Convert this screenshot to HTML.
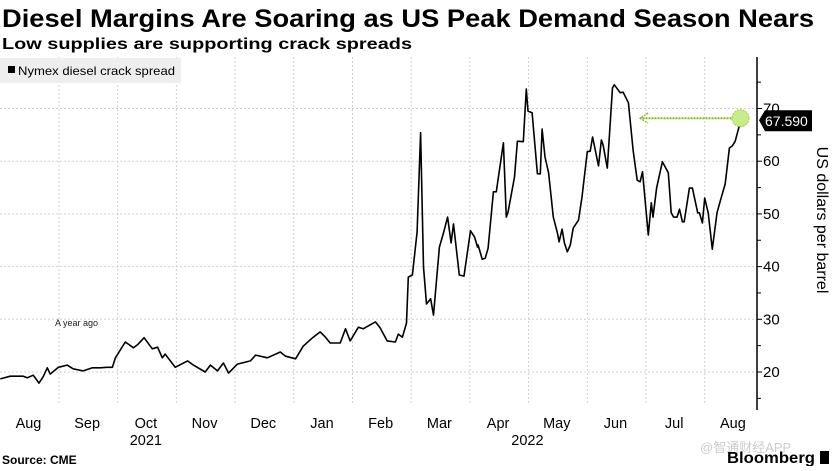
<!DOCTYPE html>
<html><head><meta charset="utf-8"><style>
body{margin:0;background:#fff;width:833px;height:466px;overflow:hidden;font-family:"Liberation Sans",sans-serif}
</style></head><body>
<svg width="833" height="466" viewBox="0 0 833 466" xmlns="http://www.w3.org/2000/svg" font-family="Liberation Sans, sans-serif">
<text x="2" y="27" font-size="25" font-weight="bold" fill="#000" textLength="812" lengthAdjust="spacingAndGlyphs">Diesel Margins Are Soaring as US Peak Demand Season Nears</text>
<text x="2" y="49" font-size="16" font-weight="bold" fill="#000" textLength="410" lengthAdjust="spacingAndGlyphs">Low supplies are supporting crack spreads</text>
<g id="grid"></g>
<g id="axes"></g>
<rect x="0" y="58" width="181" height="25" fill="#eeeeee"/>
<rect x="8" y="66" width="7" height="7" fill="#000"/>
<text x="18" y="75" font-size="12" fill="#000" textLength="157" lengthAdjust="spacingAndGlyphs">Nymex diesel crack spread</text>
<text x="55" y="326" font-size="9" fill="#222">A year ago</text>
<g id="series"></g>
<g id="annot"></g>
<text transform="translate(817,220) rotate(90)" text-anchor="middle" font-size="16" fill="#000">US dollars per barrel</text>
<text x="2" y="464" font-size="12" font-weight="bold" fill="#000">Source: CME</text>
<text x="700" y="452" font-size="13" fill="#ccc">@智通财经APP</text>
<text x="727" y="463" font-size="16" font-weight="bold" fill="#000" textLength="88" lengthAdjust="spacingAndGlyphs">Bloomberg</text>
<rect x="820" y="451" width="9" height="13" fill="#000"/>
</svg>
<script>
// months since 2021-08-01
const times=[0,.17,.39,.46,.56,.66,.73,.80,.85,.99,1.14,1.24,1.41,1.57,1.70,1.82,1.91,1.96,2.13,2.27,2.35,2.45,2.59,2.68,2.76,2.81,2.98,3.19,3.29,3.49,3.58,3.70,3.80,3.89,4.04,4.26,4.35,4.55,4.77,4.86,5.03,5.16,5.32,5.45,5.54,5.62,5.79,5.88,5.96,6.10,6.18,6.39,6.47,6.59,6.73,6.78,6.85,6.92,6.95,7.02,7.10,7.16,7.21,7.26,7.33,7.38,7.48,7.55,7.62,7.68,7.72,7.82,7.90,8.01,8.08,8.13,8.14,8.21,8.26,8.31,8.40,8.45,8.57,8.62,8.65,8.76,8.81,8.91,8.96,8.99,9.06,9.15,9.20,9.23,9.28,9.34,9.42,9.49,9.52,9.57,9.61,9.66,9.71,9.76,9.85,9.91,10.00,10.05,10.09,10.19,10.24,10.27,10.34,10.43,10.46,10.56,10.61,10.70,10.78,10.85,10.90,10.94,11.04,11.09,11.12,11.18,11.28,11.38,11.43,11.47,11.53,11.57,11.62,11.65,11.74,11.79,11.88,11.91,11.96,12.00,12.06,12.13,12.21,12.27,12.35,12.42,12.47,12.52,12.61];
const values=[18.7,19.2,19.2,18.9,19.4,17.9,19.1,20.8,19.6,20.9,21.3,20.6,20.2,20.8,20.8,20.9,20.9,22.7,25.7,24.6,25.3,26.5,24.4,24.7,22.7,23.4,20.9,22.1,21.3,20.0,21.3,20.2,21.7,19.8,21.5,22.1,23.2,22.7,23.8,23.0,22.5,24.9,26.5,27.6,26.6,25.5,25.5,28.2,25.9,28.5,28.2,29.5,28.4,25.9,25.7,27.2,26.6,29.3,38.0,38.4,46.6,65.4,39.9,32.9,33.9,30.8,43.7,46.4,49.4,44.5,48.1,38.4,38.2,46.8,45.6,43.7,44.1,41.4,41.6,43.5,54.2,54.2,63.5,49.4,50.4,57.0,63.8,63.7,73.7,69.5,69.2,57.6,57.6,66.1,60.8,57.8,49.4,46.4,44.7,47.1,44.5,42.8,44.1,47.3,48.8,53.2,61.8,61.9,64.6,59.1,64.0,63.1,58.7,73.9,74.5,73.0,73.1,71.1,62.1,56.4,56.1,58.0,46.0,52.1,49.4,54.9,59.9,57.8,50.2,49.4,49.4,50.9,48.5,48.5,54.9,54.9,50.2,50.2,48.3,53.0,50.2,43.3,50.2,52.6,55.7,62.5,62.9,63.8,67.59];
const monthLabels=["Aug","Sep","Oct","Nov","Dec","Jan","Feb","Mar","Apr","May","Jun","Jul","Aug"];
const yTicks=[20,30,40,50,60,70];
const yearLabels=["2021","2022"];
const yearMonths=[2,8.5];
const lastLabel="67.590";

const NS="http://www.w3.org/2000/svg";
const X=t=>0.3+t*58.7;
const Y=v=>372-(v-20)*5.27;
function mk(tag,attrs,parent){const e=document.createElementNS(NS,tag);for(const k in attrs)e.setAttribute(k,attrs[k]);parent.appendChild(e);return e;}
const grid=document.getElementById('grid'),axes=document.getElementById('axes'),series=document.getElementById('series'),annot=document.getElementById('annot');
const AX=757,TOP=57,BOT=405;
for(let m=1;m<monthLabels.length;m++){
  const g=mk('line',{x1:X(m),x2:X(m),y1:TOP,y2:BOT,stroke:'#d0d0d0','stroke-dasharray':'2,2','stroke-width':1},grid);
  
  
}
yTicks.forEach(v=>{
  const g=mk('line',{x1:0,x2:AX,y1:Y(v),y2:Y(v),stroke:'#d0d0d0','stroke-dasharray':'2,2','stroke-width':1},grid);
  
  
  const t=mk('line',{x1:AX,x2:AX+5,y1:Y(v),y2:Y(v),stroke:'#000'},axes);
  
  
  const l=mk('text',{x:AX+6,y:Y(v)+5,'font-size':15,fill:'#000'},axes);
  l.textContent=v;
  
  
});
[15,25,35,45,55,65,75].forEach(v=>{
  const t=mk('line',{x1:AX,x2:AX+4,y1:Y(v),y2:Y(v),stroke:'#000'},axes);
  
  
});
const ax=mk('line',{x1:AX,x2:AX,y1:TOP,y2:410,stroke:'#000','stroke-width':1.5},axes);


monthLabels.forEach((m,i)=>{
  const l=mk('text',{x:X(i+0.48),y:428,'font-size':14.5,'text-anchor':'middle',fill:'#000'},axes);
  l.textContent=m;
  
  
});
yearLabels.forEach((y,i)=>{
  const l=mk('text',{x:X(yearMonths[i]+0.48),y:445,'font-size':14.5,'text-anchor':'middle',fill:'#000'},axes);
  l.textContent=y;
  
  
});
const d=times.map((t,i)=>(i?'L':'M')+X(t).toFixed(1)+','+Y(values[i]).toFixed(1)).join('');
const p=mk('path',{d:d,fill:'none',stroke:'#000','stroke-width':1.6,'stroke-linejoin':'round'},series);


const lx=X(times[times.length-1]),ly=Y(values[values.length-1])-3;
const ar=mk('line',{x1:lx,x2:X(10.9),y1:ly,y2:ly,stroke:'#7fb820','stroke-width':2,'stroke-dasharray':'2,1'},annot);


const ah=mk('path',{d:`M${X(10.9)+8},${ly-5}L${X(10.9)},${ly}L${X(10.9)+8},${ly+5}`,fill:'none',stroke:'#7fb820','stroke-width':1.3,'stroke-dasharray':'2,1'},annot);


const c=mk('circle',{cx:lx,cy:ly,r:8.5,fill:'#c8ec8c',stroke:'#9fd04a','stroke-dasharray':'2,1'},annot);


const bx=mk('path',{d:`M759,${ly+2}L765,${ly-8}L812,${ly-8}L812,${ly+13}L765,${ly+13}Z`,fill:'#000'},annot);


const bt=mk('text',{x:765,y:ly+8,'font-size':14,fill:'#fff'},annot);
bt.textContent=lastLabel;


</script>
</body></html>
